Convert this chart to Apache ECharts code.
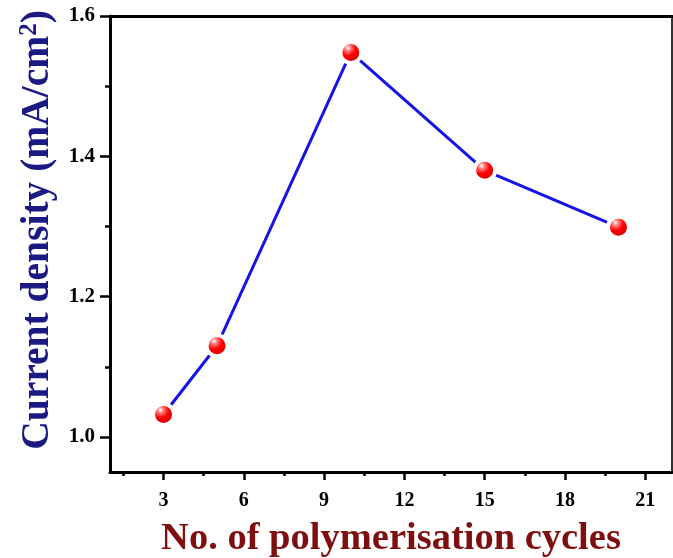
<!DOCTYPE html>
<html>
<head>
<meta charset="utf-8">
<script src="https://cdn.jsdelivr.net/npm/echarts@6/dist/echarts.min.js"></script>
<style>
  html, body { margin: 0; padding: 0; background: #fff; }
  #chart { width: 673px; height: 558px; }
</style>
</head>
<body>
<div id="chart"></div>
<script>
// Polymerisation cycles vs. current density
const cycles = [3, 5, 10, 15, 20];
const currentDensity = [1.032, 1.130, 1.548, 1.380, 1.299];

const xMajorTicks = [3, 6, 9, 12, 15, 18, 21];
const xMinorTicks = [1.5, 4.5, 7.5, 10.5, 13.5, 16.5, 19.5];
const yMajorTicks = [1.0, 1.2, 1.4, 1.6];
const yMinorTicks = [1.1, 1.3, 1.5];

const serif = 'Liberation Serif, Times New Roman, serif';
const X_MIN = 1, X_MAX = 22, Y_MIN = 0.95, Y_MAX = 1.6;

const chart = echarts.init(document.getElementById('chart'));

const hiddenAxisBits = {
  splitLine: { show: false },
  axisLabel: { show: false },
  axisTick: { show: false },
  axisLine: { show: false }
};

chart.setOption({
  backgroundColor: '#fff',
  animation: false,
  grid: { left: 110, right: 1, top: 16, bottom: 86, outerBoundsMode: 'none' },
  xAxis: [
    {
      type: 'value', min: X_MIN, max: X_MAX, position: 'bottom',
      name: 'No. of polymerisation cycles',
      nameLocation: 'middle', nameGap: 48,
      nameTextStyle: { fontFamily: serif, fontWeight: 'bold', fontSize: 38.5, color: '#7f0f0f' },
      axisLine: { lineStyle: { color: '#000', width: 3 } },
      axisTick: { show: true, length: 8, lineStyle: { color: '#000', width: 2.5 }, customValues: xMajorTicks },
      axisLabel: { customValues: xMajorTicks, margin: 19, fontFamily: serif, fontWeight: 'bold', fontSize: 20, color: '#000' },
      splitLine: { show: false }
    },
    Object.assign({ type: 'value', min: X_MIN, max: X_MAX, position: 'bottom' }, hiddenAxisBits, {
      axisTick: { show: true, length: 4, lineStyle: { color: '#000', width: 2.5 }, customValues: xMinorTicks }
    }),
    Object.assign({ type: 'value', min: X_MIN, max: X_MAX, position: 'top' }, hiddenAxisBits, {
      axisLine: { show: true, lineStyle: { color: '#000', width: 3 } }
    })
  ],
  yAxis: [
    {
      type: 'value', min: Y_MIN, max: Y_MAX, position: 'left',
      name: 'Current density (mA/cm{sup|2})',
      nameLocation: 'middle', nameGap: 52,
      nameTextStyle: {
        fontFamily: serif, fontWeight: 'bold', fontSize: 39.5, color: '#1a1a82',
        padding: [0, 0, 0, 28],
        rich: {
          sup: { fontFamily: serif, fontWeight: 'bold', fontSize: 25, color: '#1a1a82', padding: [0, 0, 16, 0] }
        }
      },
      axisLine: { lineStyle: { color: '#000', width: 3 } },
      axisTick: { show: true, length: 10, lineStyle: { color: '#000', width: 2.5 }, customValues: yMajorTicks },
      axisLabel: {
        customValues: yMajorTicks, margin: 15, fontFamily: serif, fontWeight: 'bold', fontSize: 21, color: '#000',
        formatter: v => v.toFixed(1)
      },
      splitLine: { show: false }
    },
    Object.assign({ type: 'value', min: Y_MIN, max: Y_MAX, position: 'left' }, hiddenAxisBits, {
      axisTick: { show: true, length: 5, lineStyle: { color: '#000', width: 2.5 }, customValues: yMinorTicks }
    }),
    Object.assign({ type: 'value', min: Y_MIN, max: Y_MAX, position: 'right' }, hiddenAxisBits, {
      axisLine: { show: true, lineStyle: { color: '#333', width: 2 } }
    })
  ],
  series: [{
    type: 'line',
    xAxisIndex: 0, yAxisIndex: 0,
    data: cycles.map((c, i) => [c, currentDensity[i]]),
    lineStyle: { color: '#1414e6', width: 3 },
    symbol: 'circle',
    symbolSize: 21,
    itemStyle: {
      color: {
        type: 'radial', x: 0.38, y: 0.32, r: 0.7,
        colorStops: [
          { offset: 0, color: '#ffffff' },
          { offset: 0.18, color: '#ff7a7a' },
          { offset: 0.45, color: '#ff0000' },
          { offset: 1, color: '#c00000' }
        ]
      },
      borderColor: '#ffffff',
      borderWidth: 4
    },
    z: 3
  }]
});
</script>
</body>
</html>
